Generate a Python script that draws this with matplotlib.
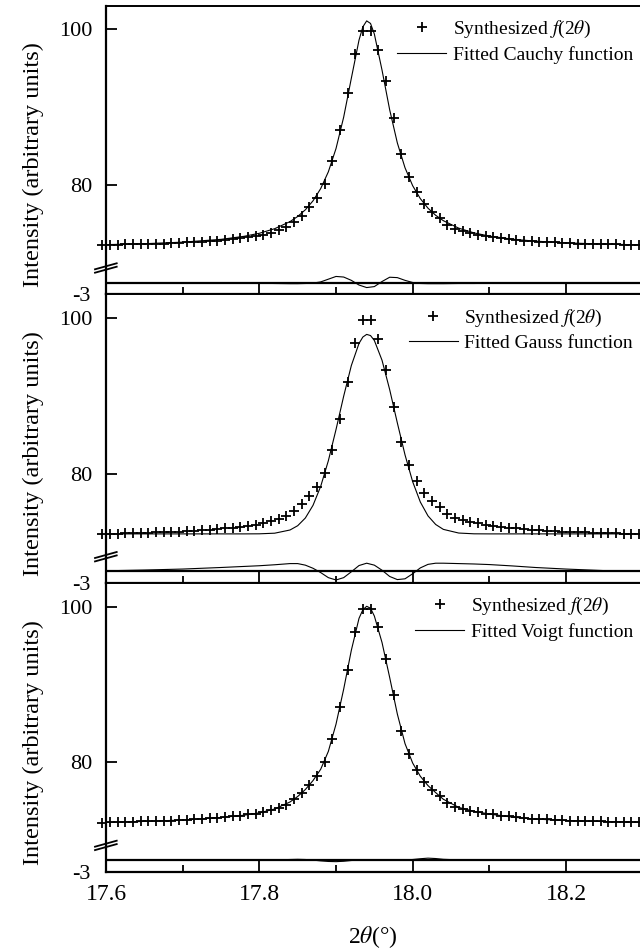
import matplotlib
matplotlib.use("Agg")
import matplotlib.pyplot as plt
from matplotlib.lines import Line2D

plt.rcParams['font.family'] = ['Liberation Serif', 'DejaVu Serif']
plt.rcParams['mathtext.fontset'] = 'stix'

# synthesized profile (crosses), same in all three panels
theta = [17.595, 17.605, 17.615, 17.625, 17.635, 17.645, 17.655, 17.665, 17.675, 17.685,
         17.695, 17.705, 17.715, 17.725, 17.735, 17.745, 17.755, 17.765, 17.775, 17.785,
         17.795, 17.805, 17.815, 17.825, 17.835, 17.845, 17.855, 17.865, 17.875, 17.885,
         17.895, 17.905, 17.915, 17.925, 17.935, 17.945, 17.955, 17.965, 17.975, 17.985,
         17.995, 18.005, 18.015, 18.025, 18.035, 18.045, 18.055, 18.065, 18.075, 18.085,
         18.095, 18.105, 18.115, 18.125, 18.135, 18.145, 18.155, 18.165, 18.175, 18.185,
         18.195, 18.205, 18.215, 18.225, 18.235, 18.245, 18.255, 18.265, 18.275, 18.285,
         18.295]
intensity = [72.25, 72.3, 72.3, 72.35, 72.35, 72.4, 72.4, 72.45, 72.45, 72.5,
             72.55, 72.6, 72.65, 72.7, 72.8, 72.85, 72.95, 73.05, 73.15, 73.3,
             73.4, 73.6, 73.85, 74.15, 74.55, 75.25, 76.05, 77.1, 78.3, 80.1,
             83.05, 87.05, 91.8, 96.8, 99.75, 99.75, 97.35, 93.3, 88.6, 84.0,
             81.05, 79.05, 77.5, 76.5, 75.7, 74.8, 74.3, 74.05, 73.8, 73.6,
             73.4, 73.3, 73.15, 73.05, 72.95, 72.85, 72.75, 72.7, 72.65, 72.6,
             72.55, 72.5, 72.45, 72.45, 72.4, 72.4, 72.35, 72.35, 72.3, 72.3,
             72.3]

# fitted curves
fit_theta = [17.60, 17.65, 17.70, 17.75, 17.78, 17.80, 17.82, 17.84, 17.85, 17.86,
             17.87, 17.88, 17.89, 17.90, 17.91, 17.92, 17.93, 17.935, 17.94, 17.945,
             17.95, 17.96, 17.97, 17.98, 17.99, 18.00, 18.01, 18.02, 18.03, 18.04,
             18.06, 18.08, 18.10, 18.13, 18.16, 18.20, 18.25, 18.30, 18.35, 18.40]
cauchy_fit = [72.32, 72.44, 72.64, 73.00, 73.39, 73.78, 74.37, 75.28, 75.94, 76.80,
              77.95, 79.52, 81.68, 84.67, 88.71, 93.71, 98.61, 100.31, 101.08, 100.75,
              99.39, 94.76, 89.65, 85.39, 82.20, 79.89, 78.23, 77.00, 76.09, 75.40,
              74.44, 73.83, 73.42, 73.02, 72.77, 72.55, 72.39, 72.29, 72.22, 72.17]
gauss_fit = [72.25, 72.25, 72.25, 72.25, 72.25, 72.26, 72.34, 72.75, 73.30, 74.29,
             75.92, 78.35, 81.65, 85.66, 89.95, 93.89, 96.73, 97.55, 97.89, 97.74,
             97.11, 94.57, 90.79, 86.51, 82.41, 78.95, 76.34, 74.56, 73.46, 72.83,
             72.36, 72.26, 72.25, 72.25, 72.25, 72.25, 72.25, 72.25, 72.25, 72.25]
voigt_fit = [72.28, 72.40, 72.58, 72.90, 73.20, 73.50, 74.00, 74.90, 75.60, 76.50,
             77.65, 79.10, 81.40, 84.90, 89.40, 94.40, 98.50, 99.60, 100.05, 99.80,
             98.80, 95.40, 90.90, 86.20, 82.40, 79.90, 78.20, 77.00, 76.10, 75.25,
             74.20, 73.70, 73.35, 72.95, 72.70, 72.52, 72.38, 72.30, 72.25, 72.20]

# residuals (synthesized - fitted)
res_theta = [17.60, 17.65, 17.70, 17.75, 17.80, 17.82, 17.84, 17.85, 17.86, 17.87,
             17.88, 17.89, 17.90, 17.91, 17.92, 17.93, 17.94, 17.95, 17.96, 17.97,
             17.98, 17.99, 18.00, 18.01, 18.02, 18.03, 18.04, 18.06, 18.08, 18.10,
             18.13, 18.16, 18.20, 18.25, 18.30, 18.40]
cauchy_res = [0.0, -0.05, -0.1, -0.1, -0.15, -0.2, -0.25, -0.25, -0.2, -0.1,
              0.2, 0.9, 1.6, 1.45, 0.6, -0.6, -1.25, -1.0, 0.3, 1.4,
              1.3, 0.6, 0.05, -0.2, -0.25, -0.25, -0.25, -0.2, -0.2, -0.15,
              -0.1, -0.05, 0.0, 0.0, 0.0, 0.0]
gauss_res = [0.15, 0.35, 0.6, 1.0, 1.45, 1.7, 2.0, 2.0, 1.6, 0.8,
             -0.3, -1.6, -2.2, -1.6, -0.1, 1.5, 2.1, 1.6, 0.3, -1.3,
             -2.1, -1.9, -0.6, 0.9, 1.8, 2.1, 2.1, 2.0, 1.9, 1.75,
             1.4, 1.0, 0.6, 0.2, 0.05, 0.0]
voigt_res = [0.0, 0.0, 0.0, 0.0, 0.0, 0.05, 0.15, 0.2, 0.15, 0.0,
             -0.2, -0.35, -0.4, -0.3, -0.1, 0.0, 0.05, 0.0, -0.05, -0.05,
             0.0, 0.05, 0.15, 0.35, 0.5, 0.4, 0.2, 0.05, 0.0, 0.0,
             0.0, 0.0, 0.0, 0.0, 0.0, 0.0]

x_ticks = [17.6, 17.8, 18.0, 18.2, 18.4]
x_ticklabels = ['17.6', '17.8', '18.0', '18.2', '']

panels = [
    ('Fitted Cauchy function', cauchy_fit, cauchy_res),
    ('Fitted Gauss function', gauss_fit, gauss_res),
    ('Fitted Voigt function', voigt_fit, voigt_res),
]

W, H = 640, 950
fig = plt.figure(figsize=(W / 100, H / 100), dpi=100)

# layout in pixels
x0 = 106.0
px_per_deg = 766.7
panel_h = 288.7
top0 = 5.7
main_h = 264.0


def fx(px):
    return px / W


def fy(py):
    return 1 - py / H


for k, (label, fit, res) in enumerate(panels):
    T = top0 + panel_h * k
    width = px_per_deg * 0.8 / W

    # main axes
    ax = fig.add_axes([fx(x0), fy(T + main_h), width, main_h / H])
    ax.plot(theta, intensity, '+', color='k', ms=7.5, mew=1.3, clip_on=False,
            label='Synthesized $f$(2$\\theta$)')
    ax.plot(fit_theta, fit, '-', color='k', lw=0.8, label=label)
    ax.set_xlim(17.6, 18.4)
    ax.set_ylim(69.1, 103.03)
    ax.set_yticks([80, 100])
    ax.tick_params(axis='y', direction='in', length=8, width=1.3, pad=10, labelsize=16)
    ax.tick_params(axis='x', bottom=False, labelbottom=False)
    for s in ('right', 'bottom'):
        ax.spines[s].set_visible(False)
    ax.spines['left'].set_linewidth(1.6)
    ax.spines['top'].set_linewidth(1.4)
    ax.legend(loc='upper right', bbox_to_anchor=(fx(633), fy(T + 13)),
              bbox_transform=fig.transFigure, frameon=False, fontsize=14,
              handlelength=2.5, handletextpad=0.35, labelspacing=0.3,
              borderpad=0, borderaxespad=0, numpoints=1)

    # residual strip
    rax = fig.add_axes([fx(x0), fy(T + panel_h), width, (panel_h - main_h) / H])
    rax.axhline(0, color='k', lw=1.6)
    rax.plot(res_theta, res, '-', color='k', lw=0.8)
    rax.set_xlim(17.6, 18.4)
    rax.set_ylim(-3, 3.33)
    rax.set_yticks([-3])
    rax.set_yticklabels(['-3'])
    rax.tick_params(axis='y', length=0, pad=11, labelsize=16)
    rax.set_xticks(x_ticks)
    rax.set_xticks([17.7, 17.9, 18.1, 18.3], minor=True)
    rax.tick_params(axis='x', which='major', direction='in', length=8.4, width=1.3,
                    pad=9, labelsize=17, labelbottom=(k == 2))
    rax.tick_params(axis='x', which='minor', direction='in', length=4.8, width=1.3)
    if k == 2:
        rax.set_xticklabels(x_ticklabels)
    for s in ('right', 'top'):
        rax.spines[s].set_visible(False)
    rax.spines['left'].set_linewidth(1.6)
    rax.spines['bottom'].set_linewidth(1.6)

    # axis break marks
    for dy in (0.0, 3.4):
        fig.add_artist(Line2D([fx(95), fx(116.7)],
                              [fy(T + 263.6 + dy), fy(T + 257.6 + dy)],
                              transform=fig.transFigure, color='k', lw=1.3))

    fig.text(fx(33), fy(T + 159.3), 'Intensity (arbitrary units)', rotation=90,
             ha='center', va='center', fontsize=17.5)

fig.text(fx(373), fy(937), '2$\\theta$(°)', ha='center', va='center', fontsize=17)

fig.savefig('out.png', dpi=100)
